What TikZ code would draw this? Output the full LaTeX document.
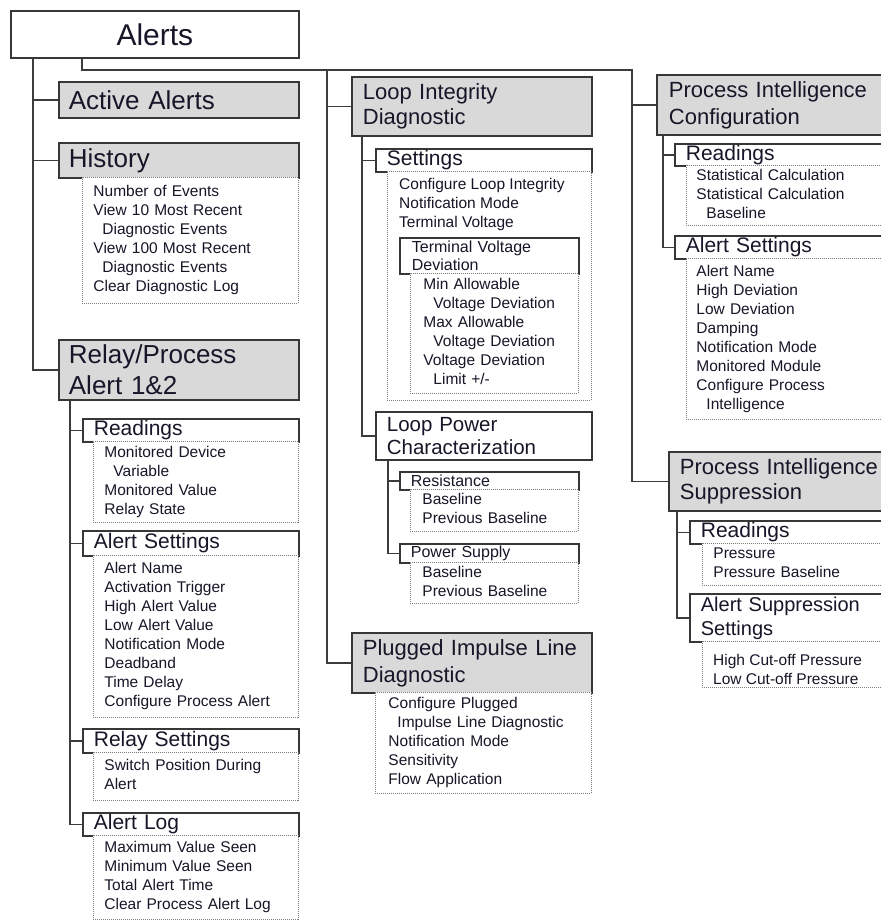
\documentclass[tikz,border=0pt]{standalone}
\usepackage{fontspec}
\setmainfont{Liberation Sans}
\usetikzlibrary{calc}
\definecolor{hdrfill}{RGB}{217,217,217}
\definecolor{bordc}{RGB}{55,55,55}
\definecolor{wirec}{RGB}{60,60,60}
\definecolor{dotc}{RGB}{125,125,125}
\definecolor{txtc}{RGB}{22,22,40}
\newcommand\mkbox[8]{%
  \pgfmathsetmacro\mytw{#5-2*#7}%
  \node[#1, minimum width=#5pt, minimum height=#6pt, text width=\mytw pt,
        inner xsep=#7pt, inner ysep=0pt, anchor=north west] (#2) at (#3,#4) {#8};}
\begin{document}
\begin{tikzpicture}[x=1pt,y=-1pt,
  every node/.style={text=txtc},
  hdr/.style={draw=bordc, line width=1.8pt, fill=hdrfill, align=left},
  subb/.style={draw=bordc, line width=1.8pt, fill=white, align=left},
  lstb/.style={draw=dotc, line width=0.9pt, dash pattern=on 1pt off 1pt, fill=white, align=left,
    font=\fontsize{15.5}{19}\selectfont, execute at begin node=\strut, execute at end node=\strut},
  lsttxt/.style={align=left, inner sep=0pt, font=\fontsize{15.5}{19}\selectfont,
    execute at begin node=\strut, execute at end node=\strut},
  wire/.style={draw=wirec, line width=1.5pt},
  fA/.style={font=\fontsize{30}{36}\selectfont},
  fB/.style={font=\fontsize{26}{31}\selectfont},
  fC/.style={font=\fontsize{22}{25}\selectfont},
  fCC/.style={font=\fontsize{22}{27}\selectfont},
  fD/.style={font=\fontsize{21}{24}\selectfont},
  fE/.style={font=\fontsize{20.5}{23}\selectfont},
  fF/.style={font=\fontsize{16}{18}\selectfont},
]
\useasboundingbox (0,0) rectangle (881,922);
\clip (0,0) rectangle (881,922);

% ---------- left column ----------
\mkbox{subb,fA,align=center}{alerts}{10}{10}{288}{47}{0}{Alerts}
\mkbox{hdr,fB}{active}{58}{81}{240}{36}{10}{Active Alerts}
\mkbox{hdr,fB}{hist}{58}{142}{240}{35}{10}{History}
\mkbox{lstb}{histl}{82}{177}{216}{126}{11}{Number of Events\\View 10 Most Recent\\\hspace*{9pt}Diagnostic Events\\View 100 Most Recent\\\hspace*{9pt}Diagnostic Events\\Clear Diagnostic Log}
\mkbox{hdr,fB}{relay}{58}{339}{240}{60}{10}{Relay/Process\\Alert 1\&2}
\mkbox{subb,fD}{rread}{82}{418}{216}{23}{11}{Readings}
\mkbox{lstb}{rreadl}{93}{441}{205}{81}{11}{Monitored Device\\\hspace*{9pt}Variable\\Monitored Value\\Relay State}
\mkbox{subb,fD}{raset}{82}{530}{216}{25}{11}{Alert Settings}
\mkbox{lstb}{rasetl}{93}{555}{205}{162}{11}{Alert Name\\Activation Trigger\\High Alert Value\\Low Alert Value\\Notification Mode\\Deadband\\Time Delay\\Configure Process Alert}
\mkbox{subb,fD}{rrset}{82}{728}{216}{24}{11}{Relay Settings}
\mkbox{lstb}{rrsetl}{93}{752}{205}{48}{11}{Switch Position During\\Alert}
\mkbox{subb,fD}{rlog}{82}{812}{216}{23}{11}{Alert Log}
\mkbox{lstb}{rlogl}{93}{835}{205}{84}{11}{Maximum Value Seen\\Minimum Value Seen\\Total Alert Time\\Clear Process Alert Log}

% ---------- middle column ----------
\mkbox{hdr,fC}{loop}{351}{76}{240}{59}{11}{Loop Integrity\\Diagnostic}
\mkbox{subb,fD}{lset}{375}{148}{216}{23}{11}{Settings}
\mkbox{lstb}{lsetl}{387}{171}{204}{229}{12}{}
\node[lsttxt, anchor=west] (lsett) at ($(lsetl.north west)+(12,35)$) {Configure Loop Integrity\\Notification Mode\\Terminal Voltage};
\mkbox{subb,fF}{tvd}{399}{237}{179}{36}{12}{Terminal Voltage\\Deviation}
\mkbox{lstb}{tvdl}{410}{273}{168}{120}{13}{Min Allowable\\\hspace*{10pt}Voltage Deviation\\Max Allowable\\\hspace*{10pt}Voltage Deviation\\Voltage Deviation\\\hspace*{10pt}Limit +/-}
\mkbox{subb,fE}{lpow}{375}{411}{216}{48}{11}{Loop Power\\Characterization}
\mkbox{subb,fF}{res}{399}{471}{179}{18}{11}{Resistance}
\mkbox{lstb}{resl}{410}{489}{168}{42}{12}{Baseline\\Previous Baseline}
\mkbox{subb,fF}{psup}{399}{543}{179}{19}{11}{Power Supply}
\mkbox{lstb}{psupl}{410}{562}{168}{41}{12}{Baseline\\Previous Baseline}
\mkbox{hdr,fCC}{plug}{351}{632}{240}{60}{11}{Plugged Impulse Line\\Diagnostic}
\mkbox{lstb}{plugl}{375}{692}{216}{101}{13}{Configure Plugged\\\hspace*{9pt}Impulse Line Diagnostic\\Notification Mode\\Sensitivity\\Flow Application}

% ---------- right column ----------
\mkbox{hdr,fCC}{pic}{656}{74}{260}{60}{12}{Process Intelligence\\Configuration}
\mkbox{subb,fD}{picr}{674}{143}{240}{22}{11}{Readings}
\mkbox{lstb}{picrl}{686}{165}{230}{60}{10}{Statistical Calculation\\Statistical Calculation\\\hspace*{10pt}Baseline}
\mkbox{subb,fD}{pica}{674}{235}{240}{23}{11}{Alert Settings}
\mkbox{lstb}{pical}{686}{258}{230}{161}{10}{Alert Name\\High Deviation\\Low Deviation\\Damping\\Notification Mode\\Monitored Module\\Configure Process\\\hspace*{10pt}Intelligence}
\mkbox{hdr,fC}{pis}{668}{451}{250}{59}{11}{Process Intelligence\\Suppression}
\mkbox{subb,fD}{pisr}{689}{520}{230}{23}{11}{Readings}
\mkbox{lstb}{pisrl}{702}{543}{220}{42}{11}{Pressure\\Pressure Baseline}
\mkbox{subb,font=\fontsize{20}{24}\selectfont}{piss}{689}{593}{230}{48}{11}{Alert Suppression\\Settings}
\mkbox{lstb}{pissl}{702}{641}{220}{46}{11}{}
\node[lsttxt, anchor=west] (pisst) at ($(pissl.north west)+(11,31)$) {High Cut-off Pressure\\Low Cut-off Pressure};

% ---------- connectors ----------
\coordinate (lbus) at ($(alerts.south west)+(23,0)$);
\draw[wire] (lbus) |- (relay.west);
\draw[wire] (active.west) -- (active.west -| lbus);
\draw[wire] (hist.west) -- (hist.west -| lbus);

\coordinate (tbus) at ($(alerts.south west)+(72,0)$);
\coordinate (mbus) at ($(loop.north west)+(-24,-6)$);
\coordinate (rbus) at ($(pic.north west)+(-24,-4)$);
\draw[wire] (tbus) |- (rbus) |- (pis.west);
\draw[wire] (mbus) |- (plug.west);
\draw[wire] (loop.west) -- (loop.west -| mbus);
\draw[wire] (pic.west) -- (pic.west -| rbus);

\coordinate (rsub) at ($(relay.south west)+(12,0)$);
\draw[wire] (rsub) |- (rlog.west);
\draw[wire] (rread.west) -- (rread.west -| rsub);
\draw[wire] (raset.west) -- (raset.west -| rsub);
\draw[wire] (rrset.west) -- (rrset.west -| rsub);

\coordinate (lsub) at ($(loop.south west)+(11,0)$);
\draw[wire] (lsub) |- (lpow.west);
\draw[wire] (lset.west) -- (lset.west -| lsub);

\coordinate (psub) at ($(lpow.south west)+(13,0)$);
\draw[wire] (psub) |- (psup.west);
\draw[wire] (res.west) -- (res.west -| psub);

\coordinate (csub) at ($(pic.south west)+(7,0)$);
\draw[wire] (csub) |- (pica.west);
\draw[wire] (picr.west) -- (picr.west -| csub);

\coordinate (ssub) at ($(pis.south west)+(9,0)$);
\draw[wire] (ssub) |- (piss.west);
\draw[wire] (pisr.west) -- (pisr.west -| ssub);
\end{tikzpicture}
\end{document}
